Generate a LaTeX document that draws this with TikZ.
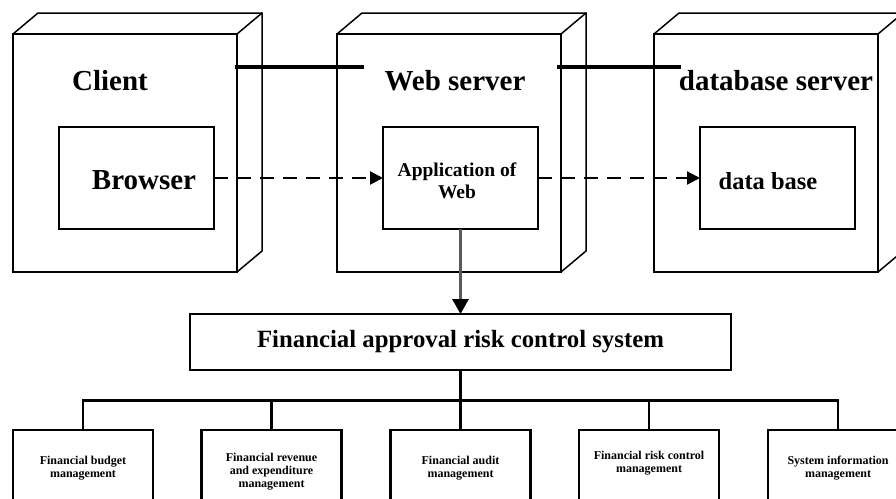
\documentclass[tikz,border=0pt]{standalone}
\usepackage{fontspec}
\setmainfont{Liberation Serif}
\usetikzlibrary{arrows.meta}
\begin{document}
\begin{tikzpicture}[x=1pt,y=-1pt,
  front/.style={draw, line width=2pt, minimum width=224pt, minimum height=238pt, inner sep=0pt, outer sep=0pt},
  depthline/.style={line width=1.5pt, line join=miter},
  title/.style={font=\fontsize{29}{32}\selectfont\bfseries, inner sep=0pt},
  inner/.style={draw, line width=2pt, minimum width=155pt, minimum height=102pt, inner sep=0pt, outer sep=0pt},
  link/.style={line width=3.5pt},
  dasharrow/.style={line width=2.2pt, dash pattern=on 14pt off 9pt, -{Triangle[width=13pt,length=13pt]}},
  mainbox/.style={draw, line width=2.2pt, minimum width=541pt, minimum height=56pt, inner sep=0pt, outer sep=0pt, font=\fontsize{24.8}{27}\selectfont\bfseries},
  child/.style={draw, line width=2.2pt, minimum width=140pt, minimum height=78pt, inner sep=0pt, outer sep=0pt},
  childtext/.style={inner sep=0pt, align=center, font=\fontsize{12}{12.8}\selectfont\bfseries},
  tree/.style={line width=2.5pt}
]
\useasboundingbox (0,0) rectangle (896,498);
\clip (0,0) rectangle (896,498);

% 3D boxes
\node[front] (client) at (125,153) {};
\node[front] (web) at (449,153) {};
\node[front] (db) at (766,153) {};
\foreach \n in {client,web,db}{
  \draw[depthline] (\n.north west) -- ++(25,-21) -- ++(224,0) -- ++(0,238) -- (\n.south east);
  \draw[depthline] (\n.north east) -- ++(25,-21);
}

% titles
\node[title] (tclient) at (110,81) {Client};
\node[title] (tweb) at (455,81) {Web server};
\node[title] (tdb) at (776,81) {database server};

% solid links
\coordinate (l1a) at (235,67);
\coordinate (l1b) at (364,67);
\coordinate (l2a) at (557,67);
\coordinate (l2b) at (681,67);
\draw[link] (l1a) -- (l1b);
\draw[link] (l2a) -- (l2b);

% inner boxes
\node[inner] (browser) at (136.5,178) {};
\node[title] (tbrowser) at (144,180) {Browser};
\node[inner] (app) at (460.5,178) {};
\node[inner sep=0pt, align=center, font=\fontsize{19.5}{22}\selectfont\bfseries] (tapp) at (457,181) {Application of\\Web};
\node[inner] (dbase) at (777.5,178) {};
\node[inner sep=0pt, font=\fontsize{24.5}{27}\selectfont\bfseries] (tdbase) at (768,181) {data base};

% dashed arrows
\draw[dasharrow] (browser.east) -- (app.west);
\draw[dasharrow] (app.east) -- (dbase.west);

% main system box
\node[mainbox] (sys) at (460.5,342) {Financial approval risk control system};
\draw[line width=3pt, draw=black!65, -{Triangle[width=16pt,length=15pt,color=black]}] (app.south) -- (sys.north);

% children
\node[child] (c1) at (83,469) {};
\node[child] (c2) at (271.5,469) {};
\node[child] (c3) at (460.5,469) {};
\node[child] (c4) at (649,469) {};
\node[child] (c5) at (838,469) {};
\node[childtext] (tc1) at (83,468) {Financial budget\\management};
\node[childtext] (tc2) at (271.5,471.5) {Financial revenue\\and expenditure\\management};
\node[childtext] (tc3) at (460.5,468) {Financial audit\\management};
\node[childtext] (tc4) at (649,463.5) {Financial risk control\\management};
\node[childtext] (tc5) at (838,468) {System information\\management};

\coordinate (hub) at (460.5,400.5);
\draw[tree] (sys.south) -- (hub);
\draw[tree] (c1.north) |- (hub) -| (c5.north);
\foreach \c in {c2,c3,c4}{
  \draw[tree] (\c.north) -- (\c.north |- hub);
}
\end{tikzpicture}
\end{document}
